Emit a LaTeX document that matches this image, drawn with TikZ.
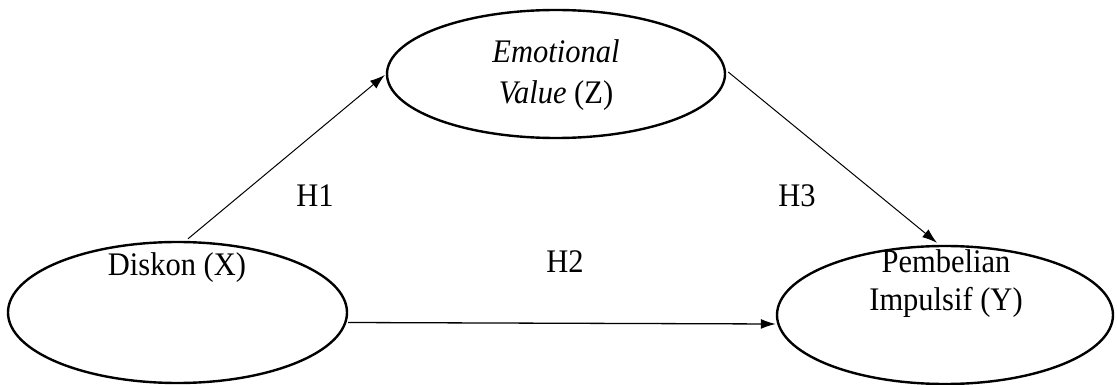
\documentclass[tikz,border=0pt]{standalone}
\usepackage{fontspec}
\setmainfont{Liberation Serif}
\usetikzlibrary{shapes.geometric,arrows.meta,calc}
\newcommand{\tallt}[1]{\scalebox{1}[1.08]{#1}}
\tikzset{
  varnode/.style={ellipse, draw=black, line width=2.4pt, inner sep=0pt},
  lbl/.style={anchor=base, inner sep=0pt, font=\fontsize{30.5}{38}\selectfont},
  conn/.style={draw=black, line width=1pt, -{Latex[length=15pt,width=10pt]}}
}
\begin{document}
\begin{tikzpicture}[x=1pt,y=-1pt]
\useasboundingbox (0,0) rectangle (1117,385);
\fill[white] (0,0) rectangle (1117,385);
% ellipses
\node[varnode, minimum width=339pt, minimum height=141pt] (X) at (177.5,312.5) {};
\node[varnode, minimum width=338pt, minimum height=128pt] (Z) at (556,74) {};
\node[varnode, minimum width=336pt, minimum height=138pt] (Y) at (945,315) {};
% texts
\node[lbl] (tZa) at (556,63) {\tallt{\textit{Emotional}}};
\node[lbl] (tZb) at (556,104) {\tallt{\textit{Value} (Z)}};
\node[lbl] (tX) at (177,275) {\tallt{Diskon (X)}};
\node[lbl] (tYa) at (946,272) {\tallt{Pembelian}};
\node[lbl] (tYb) at (946,310) {\tallt{Impulsif (Y)}};
\node[lbl] (h1) at (315,207) {\tallt{H1}};
\node[lbl] (h2) at (565,272) {\tallt{H2}};
\node[lbl] (h3) at (797,207) {\tallt{H3}};
% connectors
\draw[conn] ($(X.north)+(10.5,-2)$) -- ($(Z.west)+(-1,1)$);
\draw[conn, line width=1.3pt] ($(X.east)+(0,10)$) -- ($(Y.west)+(0,9)$);
\draw[conn] ($(Z.east)+(2,-2)$) -- ($(Y.north)+(-8,-2)$);
\end{tikzpicture}
\end{document}
